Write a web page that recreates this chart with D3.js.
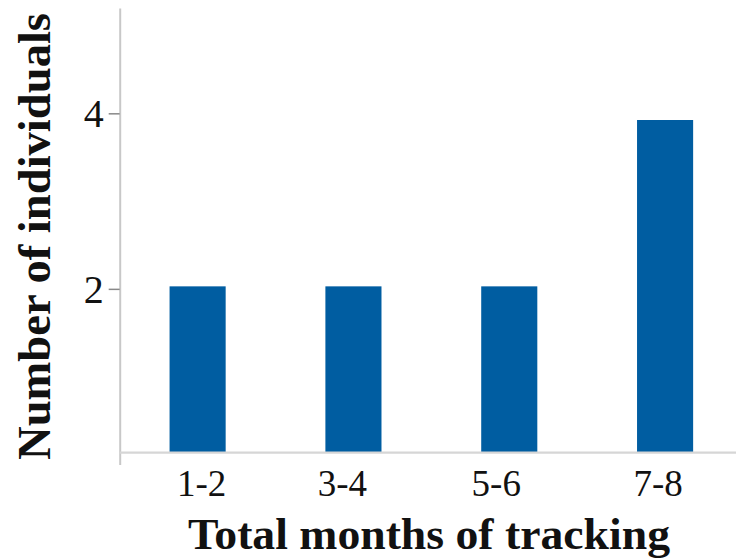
<!DOCTYPE html>
<html>
<head>
<meta charset="utf-8">
<script src="https://cdn.jsdelivr.net/npm/d3@7"></script>
<style>
  html, body { margin: 0; padding: 0; background: #fff; }
  svg { display: block; }
  text { font-family: "Liberation Serif", "Times New Roman", serif; fill: #111; }
</style>
</head>
<body>
<svg id="chart" width="736" height="560"></svg>
<script>
// ---- data ----
const categories = ["1-2", "3-4", "5-6", "7-8"];
const counts = [2, 2, 2, 4];
const yTicks = [2, 4];
const xTitle = "Total months of tracking";
const yTitle = "Number of individuals";
// small horizontal nudges of the category labels (layout only)
const labelNudge = [4, -11, -13, -7];

const W = 736, H = 560;
const svg = d3.select("#chart");

const left = 119.7, right = 743, base = 452.7;

const x = d3.scaleBand()
  .domain(categories)
  .range([left, right])
  .paddingInner(0.64)
  .paddingOuter(0.32);

// bar scale
const yBar = d3.scaleLinear().domain([0, 4]).range([base, 120]);
// axis scale (as drawn in the reference)
const yAx = d3.scaleLinear().domain([0, 5.2]).range([464.4, 8]);

// y axis
const yAxis = d3.axisLeft(yAx).tickValues(yTicks).tickSize(11).tickSizeOuter(0).tickPadding(5)
  .tickFormat(d3.format("d"));
const gy = svg.append("g").attr("transform", `translate(${left},0)`).call(yAxis);
gy.select(".domain").attr("stroke", "#c8c8c8").attr("stroke-width", 2);
gy.selectAll(".tick line").attr("stroke", "#888").attr("stroke-width", 1.5);
gy.selectAll(".tick text")
  .style("font-family", "'Liberation Serif', serif")
  .style("font-size", "40px")
  .attr("fill", "#111")
  .attr("dy", "0.33em");

// bars
svg.append("g").selectAll("rect")
  .data(categories.map((c, i) => ({ c, v: counts[i] })))
  .join("rect")
  .attr("x", d => x(d.c))
  .attr("width", x.bandwidth())
  .attr("y", d => yBar(d.v))
  .attr("height", d => yBar(0) - yBar(d.v))
  .attr("fill", "#005da1");

// x axis line
const xAxis = d3.axisBottom(x).tickSize(0).tickSizeOuter(0).tickPadding(0);
const gx = svg.append("g").attr("transform", `translate(0,${base})`).call(xAxis);
gx.select(".domain").attr("d", `M${left},0H${W}`).attr("stroke", "#d6d6d6").attr("stroke-width", 2.2);
gx.selectAll(".tick text")
  .style("font-family", "'Liberation Serif', serif")
  .style("font-size", "37px")
  .attr("fill", "#111")
  .attr("dy", null)
  .attr("y", 43)
  .attr("x", (d, i) => labelNudge[i]);

// titles
svg.append("text")
  .attr("x", 429).attr("y", 549)
  .attr("text-anchor", "middle")
  .style("font-size", "44px").style("font-weight", "bold")
  .attr("textLength", 482).attr("lengthAdjust", "spacingAndGlyphs")
  .text(xTitle);

svg.append("text")
  .attr("transform", `translate(50,236.5) rotate(-90)`)
  .attr("text-anchor", "middle")
  .style("font-size", "46px").style("font-weight", "bold")
  .attr("textLength", 447).attr("lengthAdjust", "spacingAndGlyphs")
  .text(yTitle);
</script>
</body>
</html>
